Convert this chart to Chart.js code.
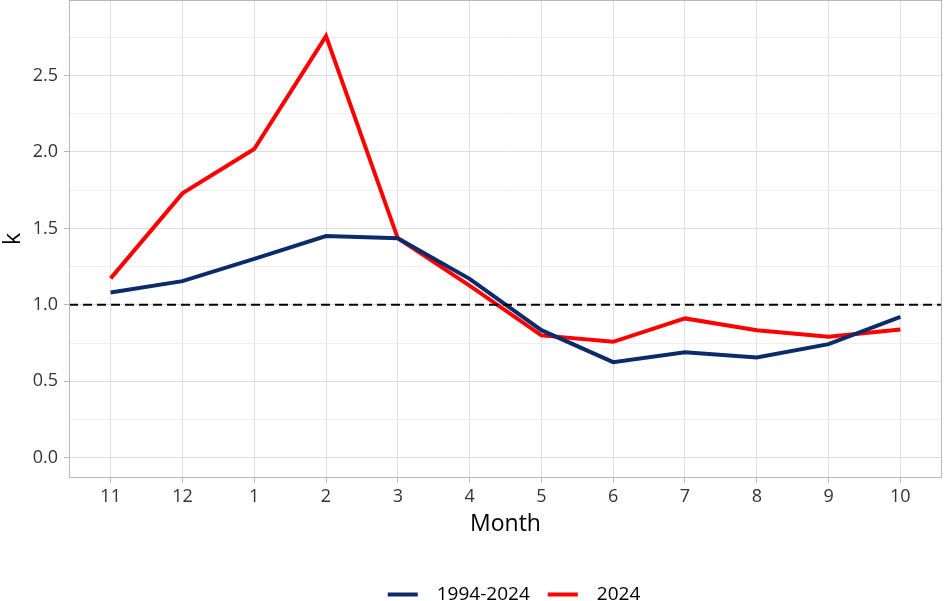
<!DOCTYPE html>
<html>
<head>
<meta charset="utf-8">
<script src="https://cdn.jsdelivr.net/npm/chart.js@4/dist/chart.umd.min.js"></script>
<style>
  html, body { margin: 0; padding: 0; background: #fff; }
  #wrap { width: 945px; height: 601px; }
</style>
</head>
<body>
<div id="wrap"><canvas id="chartK"></canvas></div>
<script>
const MONTHS = ['11', '12', '1', '2', '3', '4', '5', '6', '7', '8', '9', '10'];
const K_LONGTERM = [1.08, 1.155, 1.30, 1.45, 1.435, 1.17, 0.834, 0.625, 0.689, 0.656, 0.743, 0.921];
const K_2024 = [1.173, 1.729, 2.019, 2.758, 1.435, 1.125, 0.80, 0.758, 0.911, 0.834, 0.791, 0.839];
const Y_TICKS = [0, 0.5, 1.0, 1.5, 2.0, 2.5];
const REF_LINE = 1.0;

const FONT = "'Open Sans', 'Noto Sans', sans-serif";

function toPoints(values) {
    return values.map((v, i) => ({ x: i, y: v }));
}

// dashed line at k = 1
const refLinePlugin = {
    id: 'refLine',
    afterDatasetsDraw(chart) {
        const { ctx, chartArea, scales } = chart;
        const y = scales.y.getPixelForValue(REF_LINE);
        ctx.save();
        ctx.strokeStyle = '#000';
        ctx.lineWidth = 2;
        ctx.setLineDash([9, 5]);
        ctx.beginPath();
        ctx.moveTo(chartArea.left, y);
        ctx.lineTo(chartArea.right, y);
        ctx.stroke();
        ctx.restore();
    }
};

const panelBorder = {
    id: 'panelBorder',
    afterDraw(chart) {
        const { ctx, chartArea } = chart;
        ctx.save();
        ctx.strokeStyle = '#b8b8b8';
        ctx.lineWidth = 1;
        ctx.strokeRect(chartArea.left + 0.5, chartArea.top + 0.5,
            chartArea.right - chartArea.left - 1, chartArea.bottom - chartArea.top - 1);
        ctx.restore();
    }
};

// legend sits a bit right of the canvas centre in the original
const legendShift = {
    id: 'legendShift',
    afterLayout(chart) {
        const lg = chart.legend;
        if (!lg) return;
        lg.left += 43;
        lg.right += 43;
    }
};

function DrawChartK() {
    const data = {
        datasets: [
            {
                label: '1994-2024',
                data: toPoints(K_LONGTERM),
                borderColor: '#0b2b6a',
                backgroundColor: '#0b2b6a',
                borderWidth: 4,
                pointRadius: 0,
                tension: 0
            },
            {
                label: '2024',
                data: toPoints(K_2024),
                borderColor: '#ff0000',
                backgroundColor: '#ff0000',
                borderWidth: 4,
                pointRadius: 0,
                tension: 0
            }
        ]
    };

    const config = {
        type: 'line',
        data: data,
        options: {
            responsive: true,
            maintainAspectRatio: false,
            animation: false,
            layout: { padding: { top: 0, right: 3, left: 0, bottom: -13 } },
            scales: {
                x: {
                    type: 'linear',
                    min: -0.58,
                    max: 11.58,
                    afterBuildTicks: (scale) => {
                        scale.ticks = MONTHS.map((m, i) => ({ value: i }));
                    },
                    afterFit: (scale) => { scale.height = 89; },
                    ticks: {
                        callback: (v) => MONTHS[v],
                        color: '#333',
                        font: { family: FONT, size: 18 },
                        padding: 3,
                        maxRotation: 0,
                        autoSkip: false
                    },
                    grid: {
                        color: '#e0e0e0',
                        tickColor: '#b8b8b8',
                        tickLength: 5
                    },
                    border: { display: false },
                    title: {
                        display: true,
                        text: 'Month',
                        color: '#000',
                        font: { family: FONT, size: 23 },
                        padding: { top: 2, bottom: 29 }
                    }
                },
                y: {
                    min: -0.133,
                    max: 2.994,
                    afterBuildTicks: (scale) => {
                        const t = [];
                        for (let v = 0; v <= 2.75 + 1e-9; v += 0.25) t.push({ value: Math.round(v * 100) / 100 });
                        scale.ticks = t;
                    },
                    afterFit: (scale) => {
                        scale.width = 69;
                        scale.paddingTop = 0;
                        scale.paddingBottom = 0;
                    },
                    ticks: {
                        callback: (v) => (Y_TICKS.includes(v) ? v.toFixed(1) : ''),
                        color: '#333',
                        font: { family: FONT, size: 18 },
                        padding: 6
                    },
                    grid: {
                        color: (c) => (Y_TICKS.includes(c.tick.value) ? '#dcdcdc' : '#eeeeee'),
                        tickColor: (c) => (Y_TICKS.includes(c.tick.value) ? '#b8b8b8' : 'rgba(0,0,0,0)'),
                        tickLength: 5
                    },
                    border: { display: false },
                    title: {
                        display: true,
                        text: 'k',
                        color: '#000',
                        font: { family: FONT, size: 23 },
                        padding: { top: 0, bottom: 2 }
                    }
                }
            },
            plugins: {
                legend: {
                    position: 'bottom',
                    labels: {
                        boxWidth: 30,
                        boxHeight: 4,
                        color: '#000',
                        font: { family: FONT, size: 19 },
                        padding: 18,
                        generateLabels: (chart) => {
                            const items = Chart.defaults.plugins.legend.labels.generateLabels(chart);
                            items.forEach((it) => { it.text = '\u2002' + it.text; it.lineWidth = 0; });
                            return items;
                        }
                    }
                },
                tooltip: { enabled: false }
            }
        },
        plugins: [refLinePlugin, panelBorder, legendShift]
    };

    const ctx = document.getElementById('chartK');
    new Chart(ctx, config);
}

DrawChartK();
</script>
</body>
</html>
